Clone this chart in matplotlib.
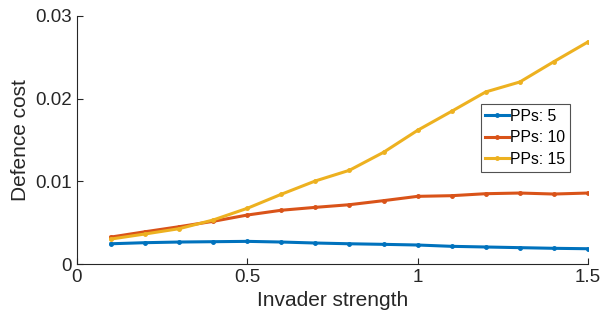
import numpy as np
import matplotlib
matplotlib.use("Agg")
import matplotlib.pyplot as plt

plt.rcParams['font.family'] = ['Liberation Sans', 'DejaVu Sans']

# invader strength
strength = [0.1, 0.2, 0.3, 0.4, 0.5, 0.6, 0.7, 0.8, 0.9, 1.0, 1.1, 1.2, 1.3, 1.4, 1.5]

# defence cost per number of PPs
cost_pp5 = [0.00245, 0.00258, 0.00266, 0.0027, 0.00274, 0.00266, 0.00254, 0.00245,
            0.00238, 0.0023, 0.00214, 0.00206, 0.00198, 0.0019, 0.00185]
cost_pp10 = [0.00326, 0.0039, 0.00451, 0.00516, 0.00592, 0.0065, 0.00685, 0.00717,
             0.00766, 0.00818, 0.00826, 0.0085, 0.00858, 0.00846, 0.00858]
cost_pp15 = [0.00302, 0.00363, 0.00427, 0.00532, 0.00673, 0.00843, 0.01004, 0.01133,
             0.0135, 0.01616, 0.01846, 0.0208, 0.0220, 0.02446, 0.02684]

series = [(cost_pp5, 'PPs: 5', '#0072BD'),
          (cost_pp10, 'PPs: 10', '#D95319'),
          (cost_pp15, 'PPs: 15', '#EDB120')]

fig = plt.figure(figsize=(6, 3.22), dpi=100)
ax = fig.add_axes([0.128, 0.18, 0.852, 0.771])

for vals, lab, col in series:
    ax.plot(strength, vals, color=col, lw=2.2, marker='.', ms=5, label=lab)

ax.set_xlim(0, 1.5)
ax.set_ylim(0, 0.03)
ax.set_xticks([0, 0.5, 1, 1.5])
ax.set_xticklabels(['0', '0.5', '1', '1.5'])
ax.set_yticks([0, 0.01, 0.02, 0.03])
ax.set_yticklabels(['0', '0.01', '0.02', '0.03'])

for side in ['top', 'right']:
    ax.spines[side].set_visible(False)
for side in ['left', 'bottom']:
    ax.spines[side].set_color('#262626')
    ax.spines[side].set_linewidth(0.8)
ax.tick_params(direction='in', length=4, labelsize=13.5, colors='#262626')

ax.set_xlabel('Invader strength', fontsize=15, color='#262626')
ax.set_ylabel('Defence cost', fontsize=15, color='#262626')

leg = ax.legend(loc='upper left', bbox_to_anchor=(0.79, 0.645), fontsize=11.3,
                frameon=True, fancybox=False, handlelength=1.5, handletextpad=0.1,
                borderpad=0.3, labelspacing=0.42, borderaxespad=0)
leg.get_frame().set_edgecolor('#262626')
leg.get_frame().set_linewidth(0.8)

fig.savefig('out.png', dpi=100)
